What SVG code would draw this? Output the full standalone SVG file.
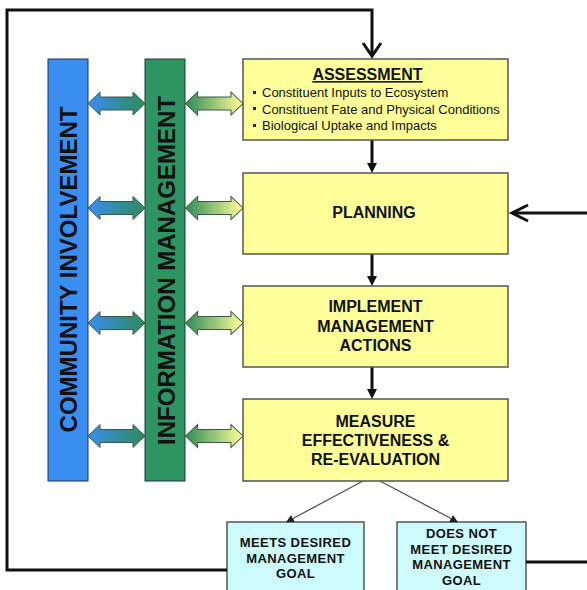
<svg xmlns="http://www.w3.org/2000/svg" width="587" height="590" viewBox="0 0 587 590">
  <style>
    .bar-text { font-family: "Liberation Sans", Arial, sans-serif; font-weight: bold; font-size: 24px; fill: #111; }
    .step { fill: #ffff99; stroke: #555; stroke-width: 1.5; }
    .goal { fill: #cdfafd; stroke: #555; stroke-width: 1.5; }
    .label { font-family: "Liberation Sans", Arial, sans-serif; font-weight: bold; font-size: 16px; fill: #111; text-anchor: middle; }
    .small { font-family: "Liberation Sans", Arial, sans-serif; font-weight: bold; font-size: 13px; fill: #111; text-anchor: middle; letter-spacing: 0.4px; }
    .item { font-family: "Liberation Sans", Arial, sans-serif; font-size: 13px; fill: #111; }
    .flow { fill: none; stroke: #111; stroke-width: 3; }
    .loop { fill: none; stroke: #111; stroke-width: 3; }
    .branch { fill: none; stroke: #555; stroke-width: 1.3; }
    .dbl { stroke: #3d5a48; stroke-width: 1; }
  </style>
  <defs>
    <linearGradient id="gBlueGreen" x1="0" y1="0" x2="1" y2="0">
      <stop offset="0" stop-color="#3a8ef2"/>
      <stop offset="1" stop-color="#2e8b57"/>
    </linearGradient>
    <linearGradient id="gGreenYellow" x1="0" y1="0" x2="1" y2="0">
      <stop offset="0" stop-color="#2e8b57"/>
      <stop offset="1" stop-color="#ffff99"/>
    </linearGradient>
    <!-- double-headed block arrow, 57 wide, centred on y=0 -->
    <path id="dblArrow" d="M0,0 L12,-11.5 L12,-6.5 L45,-6.5 L45,-11.5 L57,0 L45,11.5 L45,6.5 L12,6.5 L12,11.5 Z"/>
    <marker id="headBlack" markerUnits="userSpaceOnUse" markerWidth="12" markerHeight="12" refX="0" refY="6" orient="auto">
      <path d="M0,1 L10,6 L0,11 Z" fill="#111"/>
    </marker>
    <marker id="headGray" markerUnits="userSpaceOnUse" markerWidth="10" markerHeight="10" refX="0" refY="4" orient="auto">
      <path d="M0,0 L8,4 L0,8 Z" fill="#222"/>
    </marker>
  </defs>

  <rect width="587" height="590" fill="#ffffff"/>

  <!-- vertical bars -->
  <g id="community">
    <rect x="48" y="59" width="40" height="422" fill="#3a8ef2" stroke="#1d3550" stroke-width="1"/>
    <text class="bar-text" transform="translate(77,269.5) rotate(-90)" text-anchor="middle">COMMUNITY INVOLVEMENT</text>
  </g>
  <g id="information">
    <rect x="145" y="59" width="40" height="422" fill="#2e9462" stroke="#1d3a2a" stroke-width="1"/>
    <text class="bar-text" transform="translate(175,270.5) rotate(-90)" text-anchor="middle">INFORMATION MANAGEMENT</text>
  </g>

  <!-- double arrows between bars and steps -->
  <g id="links">
    <use href="#dblArrow" class="dbl" fill="url(#gBlueGreen)" transform="translate(88,103.5)"/>
    <use href="#dblArrow" class="dbl" fill="url(#gBlueGreen)" transform="translate(88,208)"/>
    <use href="#dblArrow" class="dbl" fill="url(#gBlueGreen)" transform="translate(88,323)"/>
    <use href="#dblArrow" class="dbl" fill="url(#gBlueGreen)" transform="translate(88,436)"/>
    <use href="#dblArrow" class="dbl" fill="url(#gGreenYellow)" transform="translate(185.5,103.5) scale(1.01,1)"/>
    <use href="#dblArrow" class="dbl" fill="url(#gGreenYellow)" transform="translate(185.5,208) scale(1.01,1)"/>
    <use href="#dblArrow" class="dbl" fill="url(#gGreenYellow)" transform="translate(185.5,323) scale(1.01,1)"/>
    <use href="#dblArrow" class="dbl" fill="url(#gGreenYellow)" transform="translate(185.5,436) scale(1.01,1)"/>
  </g>

  <!-- process steps -->
  <g id="assessment">
    <rect class="step" x="243" y="59" width="265" height="81"/>
    <text class="label" x="367.5" y="80" text-decoration="underline">ASSESSMENT</text>
    <rect x="253" y="91" width="3" height="3" fill="#222"/>
    <rect x="253" y="107" width="3" height="3" fill="#222"/>
    <rect x="253" y="124" width="3" height="3" fill="#222"/>
    <text class="item" x="262" y="97">Constituent Inputs to Ecosystem</text>
    <text class="item" x="262" y="113.5">Constituent Fate and Physical Conditions</text>
    <text class="item" x="262" y="130">Biological Uptake and Impacts</text>
  </g>
  <g id="planning">
    <rect class="step" x="243" y="173" width="265" height="81"/>
    <text class="label" x="374" y="218">PLANNING</text>
  </g>
  <g id="implement">
    <rect class="step" x="243" y="286" width="265" height="81"/>
    <text class="label" x="375.5" y="312">IMPLEMENT</text>
    <text class="label" x="375.5" y="332">MANAGEMENT</text>
    <text class="label" x="375.5" y="351">ACTIONS</text>
  </g>
  <g id="measure">
    <rect class="step" x="243" y="399" width="265" height="82"/>
    <text class="label" x="375.5" y="427">MEASURE</text>
    <text class="label" x="375.5" y="446">EFFECTIVENESS &amp;</text>
    <text class="label" x="375.5" y="464.5">RE-EVALUATION</text>
  </g>

  <!-- outcomes -->
  <g id="meets">
    <rect class="goal" x="227" y="522" width="137" height="75"/>
    <text class="small" x="295.5" y="547">MEETS DESIRED</text>
    <text class="small" x="295.5" y="562.5">MANAGEMENT</text>
    <text class="small" x="295.5" y="578">GOAL</text>
  </g>
  <g id="not-meets">
    <rect class="goal" x="397" y="522" width="129" height="75"/>
    <text class="small" x="461.5" y="538">DOES NOT</text>
    <text class="small" x="461.5" y="553.5">MEET DESIRED</text>
    <text class="small" x="461.5" y="569">MANAGEMENT</text>
    <text class="small" x="461.5" y="585">GOAL</text>
  </g>

  <!-- connectors -->
  <g id="connectors">
    <!-- step to step -->
    <line class="flow" x1="372" y1="140.5" x2="372" y2="163" marker-end="url(#headBlack)"/>
    <line class="flow" x1="372" y1="254.5" x2="372" y2="276" marker-end="url(#headBlack)"/>
    <line class="flow" x1="372" y1="367.5" x2="372" y2="389" marker-end="url(#headBlack)"/>
    <!-- outcome branches -->
    <line class="branch" x1="363" y1="481" x2="293" y2="518.5" marker-end="url(#headGray)"/>
    <line class="branch" x1="380" y1="481" x2="451" y2="518.5" marker-end="url(#headGray)"/>
    <!-- success loop back to assessment -->
    <polyline class="loop" points="227,570 7,570 7,10 372,10 372,56"/>
    <polyline class="loop" points="363,43 372,56 381,43"/>
    <!-- shortfall loop back to planning -->
    <polyline class="loop" points="526,562 590,562"/>
    <polyline class="loop" points="590,213 512,213"/>
    <polyline class="loop" points="528,205 512,213 528,221"/>
  </g>
</svg>
